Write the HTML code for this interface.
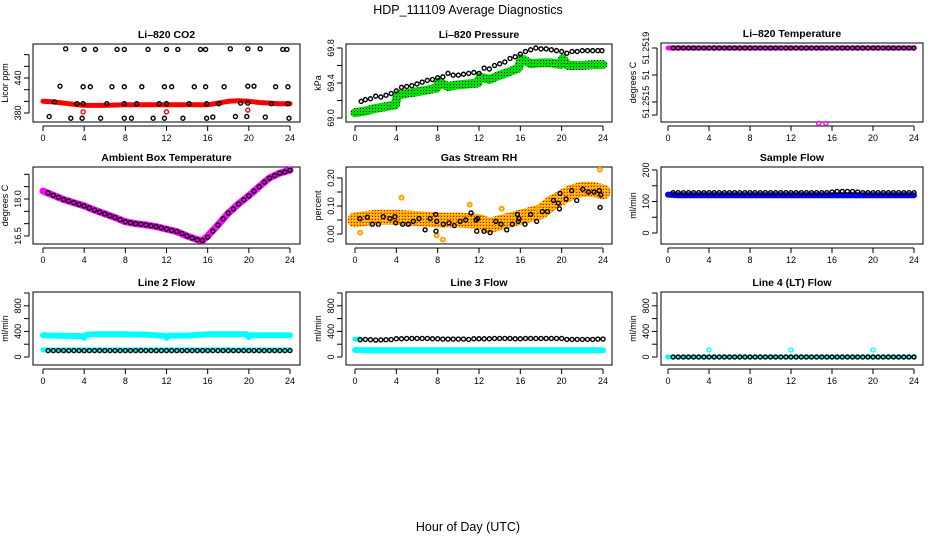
<!DOCTYPE html>
<html><head><meta charset="utf-8">
<style>
html,body{margin:0;padding:0;background:#fff;}
svg{display:block;font-family:"Liberation Sans",sans-serif;}
</style></head>
<body>
<svg id="chart" width="936" height="540" viewBox="0 0 936 540" xmlns="http://www.w3.org/2000/svg">
<defs>
<pattern id="patGreen" width="3" height="3" patternUnits="userSpaceOnUse"><rect width="3" height="3" fill="#00e000"/><rect width="1" height="1" fill="#000"/></pattern>
<pattern id="patOrange" width="3" height="3" patternUnits="userSpaceOnUse"><rect width="3" height="3" fill="#ffa500"/><rect width="1" height="1" fill="#ff0000"/><rect x="1" y="1" width="1" height="1" fill="#ffff00"/></pattern>
</defs>
<text x="468" y="14" text-anchor="middle" font-size="12.5">HDP_111109  Average Diagnostics</text>
<text x="468" y="531" text-anchor="middle" font-size="12.5">Hour of Day (UTC)</text>
</svg>
<script>
// ---------- data ----------
const hourTicks = [0,4,8,12,16,20,24];
const halfHours = [0.5,1,1.5,2,2.5,3,3.5,4,4.5,5,5.5,6,6.5,7,7.5,8,8.5,9,9.5,10,10.5,11,11.5,12,12.5,13,13.5,14,14.5,15,15.5,16,16.5,17,17.5,18,18.5,19,19.5,20,20.5,21,21.5,22,22.5,23,23.5,24];
// CO2
const co2Hours = [2.2,4.0,5.1,7.2,7.9,10.2,12.0,13.1,15.3,15.8,18.2,19.9,21.1,23.3,23.7, 1.65,3.9,4.6,6.7,7.9,9.6,11.8,12.5,14.7,15.8,17.6,19.9,20.5,22.6,23.8, 1.1,3.3,3.9,6.2,7.9,9.1,11.3,12.0,14.2,15.9,17.1,19.2,19.9,22.2,23.8, 0.6,2.7,3.8,5.6,7.9,8.6,10.7,11.8,13.6,15.9,16.5,18.7,19.8,21.6,23.9];
const co2Values = [490,489,489,489,489,489,489,489,489,489,490,490,490,489,489, 426,425,425,425,425,425,425,425,425,425,425,426,426,425,425, 399,396,396,396,396,396,396,396,396,396,396,397,397,396,396, 374,371,371,371,371,371,371,371,371,371,373,374,374,373,371];
const co2RedHours = [0,1,2,3,4,6,8,10,12,14,16,17,18,19,20,21,22,23,24];
const co2RedValues = [400,399,397,395,393,393,394,394,394,394,394,397,400,401,400,398,397,396,396];
const co2RedOutHours = [3.9,12.0,19.9];
const co2RedOutValues = [382,382,385];
// Pressure
const presHours = [0.6,1,1.5,2,2.5,3,3.5,4,4.5,5,5.5,6,6.5,7,7.5,8,8.5,9,9.5,10,10.5,11,11.5,12,12.5,13,13.5,14,14.5,15,15.5,16,16.5,17,17.5,18,18.5,19,19.5,20,20.5,21,21.5,22,22.5,23,23.5,23.9];
const presValues = [69.19,69.21,69.22,69.25,69.24,69.26,69.28,69.31,69.35,69.36,69.37,69.39,69.41,69.43,69.44,69.46,69.47,69.51,69.49,69.49,69.50,69.51,69.52,69.51,69.57,69.56,69.60,69.62,69.64,69.68,69.70,69.73,69.76,69.78,69.80,69.79,69.79,69.78,69.77,69.76,69.74,69.76,69.76,69.77,69.77,69.77,69.77,69.77];
const presGreenHours = [0,1,2,3,3.9,4.1,5,6,7,7.9,8.1,9,10,11,11.9,12.1,13,14,15,15.8,16.1,17,18,19,19.9,20.1,20.6,21,22,23,24];
const presGreenValues = [69.06,69.08,69.11,69.13,69.15,69.26,69.28,69.30,69.32,69.34,69.41,69.36,69.38,69.39,69.40,69.47,69.44,69.49,69.53,69.57,69.68,69.62,69.63,69.63,69.61,69.68,69.60,69.60,69.60,69.61,69.61];
// Li-820 temperature
const tempLiValues = [51.2519,51.2519,51.2519,51.2519,51.2519,51.2519,51.2519,51.2519,51.2519,51.2519,51.2519,51.2519,51.2519,51.2519,51.2519,51.2519,51.2519,51.2519,51.2519,51.2519,51.2519,51.2519,51.2519,51.2519,51.2519,51.2519,51.2519,51.2519,51.2519,51.2519,51.2519,51.2519,51.2519,51.2519,51.2519,51.2519,51.2519,51.2519,51.2519,51.2519,51.2519,51.2519,51.2519,51.2519,51.2519,51.2519,51.2519,51.2519];
const tempLiOutHours = [14.7,15.4];
const tempLiOutValues = [51.25145,51.25145];
// Ambient box temperature
const ambHours = [0,1,2,3,4,5,6,7,8,9,10,11,12,13,14,15,15.5,16,17,18,19,20,21,22,23,24];
const ambValues = [18.32,18.15,17.98,17.85,17.72,17.55,17.4,17.25,17.08,17.0,16.95,16.88,16.78,16.68,16.5,16.35,16.32,16.5,16.95,17.43,17.8,18.13,18.5,18.85,19.05,19.17];
const ambPtsValues = [18.25,18.15,18.07,17.98,17.92,17.85,17.78,17.72,17.63,17.55,17.47,17.40,17.32,17.25,17.16,17.08,17.04,17.0,16.98,16.95,16.92,16.88,16.83,16.78,16.73,16.68,16.6,16.5,16.42,16.35,16.32,16.45,16.7,16.95,17.2,17.43,17.6,17.8,17.97,18.13,18.32,18.5,18.68,18.85,18.95,19.05,19.1,19.17];
// Gas stream RH
const rhHours = [0.48,1.19,1.68,2.26,2.74,3.39,3.87,3.94,4.61,5.16,5.65,6.2,6.78,7.26,7.81,7.84,7.91,8.55,9.1,9.61,10.16,10.71,11.23,11.71,11.78,11.87,12.49,13.07,13.62,14.13,14.68,15.23,15.71,15.81,15.87,16.45,17.0,17.58,18.13,18.62,19.2,19.68,19.78,19.84,20.43,20.97,21.46,22.04,22.59,23.14,23.65,23.72,23.78];
const rhValues = [0.055,0.06,0.035,0.035,0.062,0.055,0.062,0.04,0.035,0.035,0.045,0.055,0.015,0.055,0.07,0.01,0.045,0.035,0.04,0.03,0.045,0.05,0.075,0.05,0.01,0.055,0.01,0.005,0.045,0.035,0.015,0.035,0.07,0.045,0.055,0.035,0.07,0.045,0.08,0.08,0.12,0.11,0.09,0.145,0.125,0.155,0.12,0.16,0.15,0.15,0.155,0.095,0.14];
const rhBandHours = [0,2,4,6,8,10,12,13,14,16,18,19,20,21,22,23,24];
const rhBandValues = [0.05,0.06,0.06,0.055,0.05,0.05,0.045,0.03,0.04,0.06,0.08,0.11,0.13,0.15,0.16,0.16,0.15];
const rhOutHours = [0.5,4.5,7.9,8.5,11.1,14.2,17.7,23.7];
const rhOutValues = [0.005,0.13,-0.005,-0.02,0.105,0.09,0.09,0.23];
// Sample flow
const sampleBlue = [122,120,120,120,120,120,120,120,120,120,120,120,120,120,120,120,120,120,120,120,120,120,120,120,120];
const sampleBlack = [128,128,128,128,128,128,128,128,128,128,128,128,128,128,128,128,128,128,128,128,128,128,128,128,128,128,128,128,128,128,128,130,132,132,132,132,130,128,128,128,128,128,128,128,128,128,128,128];
// Line 2 flow
const line2UpperHours = [0,1,2,3,3.8,4.0,4.2,5,6,8,10,11.8,12.0,12.2,14,16,18,19.8,20.0,20.2,22,24];
const line2UpperValues = [340,335,330,330,325,300,350,355,355,355,350,330,300,335,335,355,355,355,310,340,340,340];
const line2Lower = [110,110,110,110,110,110,110,110,110,110,110,110,110,110,110,110,110,110,110,110,110,110,110,110,110];
const line2Black = [100,100,100,100,100,100,100,100,100,100,100,100,100,100,100,100,100,100,100,100,100,100,100,100,100,100,100,100,100,100,100,100,100,100,100,100,100,100,100,100,100,100,100,100,100,100,100,100];
// Line 3 flow
const line3Cyan = [110,105,105,105,105,105,105,105,105,105,105,105,105,105,105,105,105,105,105,105,105,105,105,105,105];
const line3Black = [270,275,270,265,268,270,272,285,285,290,290,290,290,290,285,285,280,280,280,280,280,275,285,285,285,285,290,290,290,290,285,285,290,290,290,290,290,290,290,290,275,275,275,275,275,275,280,280];
const line3CyanStartHours = [0,0.5];
const line3CyanStartValues = [280,280];
// Line 4 flow
const line4Black = [0,0,0,0,0,0,0,0,0,0,0,0,0,0,0,0,0,0,0,0,0,0,0,0,0,0,0,0,0,0,0,0,0,0,0,0,0,0,0,0,0,0,0,0,0,0,0,0];
const line4CyanOutHours = [0,4,12,20];
const line4CyanOutValues = [0,110,110,110];
const hourly = [0,1,2,3,4,5,6,7,8,9,10,11,12,13,14,15,16,17,18,19,20,21,22,23,24];

// ---------- drawing ----------
const NS = "http://www.w3.org/2000/svg";
const svg = document.getElementById('chart');
function mk(tag, attrs, parent){
  const e = document.createElementNS(NS, tag);
  for (const k in attrs) e.setAttribute(k, attrs[k]);
  (parent||svg).appendChild(e);
  return e;
}
function panel(p){
  const g = mk('g', {});
  
  
  p.g = g;
  p.x = h => p.x0 + h*(p.x24-p.x0)/24;
  p.y = v => p.yaPx + (v-p.ya)*(p.ybPx-p.yaPx)/(p.yb-p.ya);
  const box = mk('rect', {x:p.l, y:p.t, width:p.r-p.l, height:p.b-p.t, fill:'none', stroke:'#000', 'stroke-width':1}, g);
  
  
  const t = mk('text', {x:(p.l+p.r)/2, y:p.t-6, 'text-anchor':'middle', 'font-size':10.5, 'font-weight':'bold'}, g);
  t.textContent = p.title;
  
  
  const xa = mk('g', {}, g);
  
  
  mk('line', {x1:p.x(0), x2:p.x(24), y1:p.b+4, y2:p.b+4, stroke:'#000'}, xa);
  hourTicks.forEach(h=>{
    mk('line', {x1:p.x(h), x2:p.x(h), y1:p.b+4, y2:p.b+9, stroke:'#000'}, xa);
    const tl = mk('text', {x:p.x(h), y:p.b+19, 'text-anchor':'middle', 'font-size':9}, xa);
    tl.textContent = h;
    
    
  });
  const ya = mk('g', {}, g);
  
  
  const tpx = p.tickPx || p.ticks.map(v=>p.y(v));
  mk('line', {x1:p.l-4, x2:p.l-4, y1:Math.min(...tpx), y2:Math.max(...tpx), stroke:'#000'}, ya);
  tpx.forEach((py,i)=>{
    mk('line', {x1:p.l-9, x2:p.l-4, y1:py, y2:py, stroke:'#000'}, ya);
    const lab = p.labels[i];
    if (lab){
      const tl = mk('text', {x:p.l-12, y:py, 'text-anchor':'middle', 'font-size':9, transform:`rotate(-90 ${p.l-12} ${py})`}, ya);
      tl.textContent = lab;
      
      
    }
  });
  const yt = mk('text', {x:p.l-25, y:(p.t+p.b)/2, 'text-anchor':'middle', 'font-size':9, transform:`rotate(-90 ${p.l-25} ${(p.t+p.b)/2})`}, g);
  yt.textContent = p.ylab;
  
  
  return p;
}
function band(p, hours, vals, color, w, name){
  const pts = hours.map((h,i)=>p.x(h).toFixed(1)+','+p.y(vals[i]).toFixed(1)).join(' ');
  const e = mk('polyline', {points:pts, fill:'none', stroke:color, 'stroke-width':w, 'stroke-linecap':'round', 'stroke-linejoin':'round'}, p.g);
  
  
}
function circles(p, hours, vals, color, name, r, sw){
  const g = mk('g', {}, p.g);
  
  
  hours.forEach((h,i)=>{
    const c = mk('circle', {cx:p.x(h), cy:p.y(vals[i]), r:r||2, fill:'none', stroke:color, 'stroke-width':sw||1.4}, g);
    
    
  });
}

const p1 = panel({name:'panel-co2', title:'Li\u2013820 CO2', ylab:'Licor ppm', l:33,r:300,t:44,b:122, x0:43,x24:290, ya:380,yaPx:113,yb:440,ybPx:78, ticks:[380,400,420,440,460,480], labels:['380','','','440','','']});
band(p1, co2RedHours, co2RedValues, '#ff0000', 5, 'co2-red-band');
circles(p1, co2RedOutHours, co2RedOutValues, '#ff0000', 'co2-red-outliers');
circles(p1, co2Hours, co2Values, '#000', 'co2-black-points');

const p2 = panel({name:'panel-pressure', title:'Li\u2013820 Pressure', ylab:'kPa', l:346,r:612,t:44,b:122, x0:355,x24:603, ya:69.0,yaPx:118,yb:69.8,ybPx:48, ticks:[69.0,69.2,69.4,69.6,69.8], labels:['69.0','','69.4','','69.8']});
band(p2, presGreenHours, presGreenValues, 'url(#patGreen)', 9, 'pressure-green-band');
circles(p2, presHours, presValues, '#000', 'pressure-black-points');

const p3 = panel({name:'panel-li820-temp', title:'Li\u2013820 Temperature', ylab:'degrees C', l:661,r:923,t:43,b:122, x0:668,x24:914, ya:51.2515,yaPx:115,yb:51.2519,ybPx:48, ticks:[], tickPx:[48,75,102,115], labels:['51.2519','51','51.2515','']});
band(p3, [0,24], [51.2519,51.2519], '#ff00ff', 5, 'li820-temp-magenta-band');
circles(p3, tempLiOutHours, tempLiOutValues, '#ff00ff', 'li820-temp-outliers');
circles(p3, halfHours, tempLiValues, '#000', 'li820-temp-black-points');

const p4 = panel({name:'panel-ambient-temp', title:'Ambient Box Temperature', ylab:'degrees C', l:33,r:300,t:167,b:244, x0:43,x24:290, ya:16.5,yaPx:236,yb:18.0,ybPx:199, ticks:[16.5,17,17.5,18,18.5,19], labels:['16.5','','','18.0','','']});
band(p4, ambHours, ambValues, '#ff00ff', 7, 'ambient-magenta-band');
circles(p4, halfHours, ambPtsValues, '#000', 'ambient-black-points');

const p5 = panel({name:'panel-rh', title:'Gas Stream RH', ylab:'percent', l:346,r:612,t:167,b:244, x0:355,x24:603, ya:0,yaPx:234,yb:0.2,ybPx:178, ticks:[0,0.05,0.1,0.15,0.2], labels:['0.00','','0.10','','0.20']});
band(p5, rhBandHours, rhBandValues, 'url(#patOrange)', 15, 'rh-orange-band');
circles(p5, rhOutHours, rhOutValues, '#ffa500', 'rh-orange-outliers', 2, 2);
circles(p5, rhHours, rhValues, '#000', 'rh-black-points');

const p6 = panel({name:'panel-sample-flow', title:'Sample Flow', ylab:'ml/min', l:661,r:923,t:167,b:244, x0:668,x24:914, ya:0,yaPx:233,yb:200,ybPx:170, ticks:[0,50,100,150,200], labels:['0','','100','','200']});
band(p6, hourly, sampleBlue, '#0000ff', 6, 'sample-flow-blue-band');
circles(p6, halfHours, sampleBlack, '#000', 'sample-flow-black-points');

const flowTicks = [0,200,400,600,800,1000];
const flowLabels = ['0','','400','','800',''];
const p7 = panel({name:'panel-line2-flow', title:'Line 2 Flow', ylab:'ml/min', l:33,r:300,t:292,b:365, x0:43,x24:290, ya:0,yaPx:357,yb:1000,ybPx:293, ticks:flowTicks, labels:flowLabels});
band(p7, line2UpperHours, line2UpperValues, '#00ffff', 6, 'line2-cyan-upper');
band(p7, hourly, line2Lower, '#00ffff', 5, 'line2-cyan-lower');
circles(p7, halfHours, line2Black, '#000', 'line2-black-points');

const p8 = panel({name:'panel-line3-flow', title:'Line 3 Flow', ylab:'ml/min', l:346,r:612,t:292,b:365, x0:355,x24:603, ya:0,yaPx:357,yb:1000,ybPx:293, ticks:flowTicks, labels:flowLabels});
band(p8, hourly, line3Cyan, '#00ffff', 6, 'line3-cyan-band');
band(p8, line3CyanStartHours, line3CyanStartValues, '#00ffff', 5, 'line3-cyan-start');
circles(p8, halfHours, line3Black, '#000', 'line3-black-points');

const p9 = panel({name:'panel-line4-flow', title:'Line 4 (LT) Flow', ylab:'ml/min', l:661,r:923,t:292,b:365, x0:668,x24:914, ya:0,yaPx:357,yb:1000,ybPx:293, ticks:flowTicks, labels:flowLabels});
band(p9, [0,24], [0,0], '#00ffff', 4, 'line4-cyan-band');
circles(p9, halfHours, line4Black, '#000', 'line4-black-points');
circles(p9, line4CyanOutHours, line4CyanOutValues, '#00ffff', 'line4-cyan-points');
</script>
</body></html>
